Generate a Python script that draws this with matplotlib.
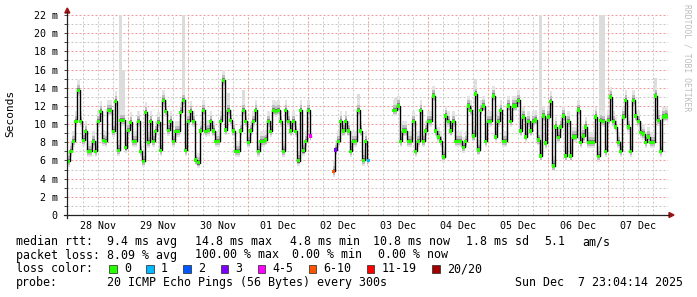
import matplotlib
matplotlib.use("Agg")
import matplotlib.pyplot as plt
import numpy as np
from matplotlib.patches import Polygon, Rectangle
from matplotlib.lines import Line2D

W, H = 697, 297
MONO = "DejaVu Sans Mono"

# median rtt in ms, one value per hour, three runs cut by the two outages
run1_start = 0
run1 = [5.9, 7.0, 8.1, 10.3, 13.7, 10.3, 8.2, 9.2, 7.0, 7.0,
        8.1, 7.0, 10.3, 11.4, 8.2, 8.1, 11.5, 11.5, 9.2, 12.5,
        7.1, 10.4, 10.4, 7.4, 9.3, 10.2, 8.1, 8.1, 10.3, 7.0,
        5.9, 11.3, 8.0, 10.3, 8.1, 9.2, 10.2, 7.1, 12.6, 11.4,
        9.3, 10.3, 8.1, 9.2, 9.2, 11.3, 12.6, 7.1, 10.3,
        11.4, 10.3, 6.05, 5.75, 9.24, 11.5, 9.2, 9.3, 10.3, 9.25,
        8.1, 8.1, 10.3, 14.8, 9.35, 11.5, 10.4, 9.25, 7.0, 7.0,
        9.25, 11.5, 10.3, 8.0, 9.25, 10.3, 11.5, 7.0, 8.1, 8.1,
        8.25, 10.3, 9.2, 11.5, 11.4, 11.5, 10.3, 7.0, 11.5, 10.3,
        9.25, 10.3, 9.2, 5.97, 11.5, 7.07, 8.1, 11.5, 8.7]
run2_start = 106
run2 = [4.8, 7.15, 8.1, 10.3, 9.25, 10.3, 9.25, 7.0, 8.1, 8.1,
        11.5, 9.25, 6.0, 8.1, 6.0]
run3_start = 130
run3 = [11.5, 11.5, 12.0, 8.1, 9.25, 9.25, 8.1, 8.1, 10.3, 7.0,
        8.1, 11.5, 8.1, 9.25, 10.3, 10.3, 13.1, 9.25, 8.6, 8.1,
        6.4, 10.9, 10.3, 9.25, 10.3, 8.1, 8.1, 8.1, 7.45, 8.1,
        12.0, 11.5, 8.7, 13.3, 7.15, 11.5, 12.0, 8.1, 10.3, 10.3,
        13.1, 8.6, 10.3, 11.5, 8.1, 8.1, 12.0, 10.3, 12.0, 12.0,
        12.6, 9.25, 10.8, 8.6, 10.3, 9.25, 10.3,
        10.45, 8.25, 6.5, 10.9, 7.9, 10.8, 12.5, 5.4, 9.7, 8.55,
        9.7, 10.9, 6.5, 10.3, 6.5, 8.6, 8.6, 11.55, 8.0, 8.7,
        9.7, 8.0, 8.0, 8.0, 10.8, 6.45, 10.4, 10.3, 7.0, 10.4,
        13.0, 10.3, 9.7, 8.0, 7.0, 10.8, 12.6, 9.7, 7.0, 12.6,
        10.9, 10.3, 9.1, 8.9, 8.0, 8.6, 8.0, 8.0, 13.1, 10.4,
        7.0, 10.8, 10.9, 10.8]

# hours where some pings were lost (everything else 0/20)
lossy_hours = [97, 106, 107, 120]
lossy_class = ["4-5", "6-10", "3", "1"]

# hours with a tall smoke column and the top of that column (ms)
spike_hours = [4, 21, 22, 38, 46, 62, 64, 70, 116, 131,
               146, 163, 189, 213, 214, 217, 235]
spike_tops = [14.3, 22, 16, 13.4, 22, 15.3, 13.4, 13.8, 13.3, 12.9,
              14.0, 15.0, 22, 22, 22, 13.8, 15.1]

loss_labels = ["0", "1", "2", "3", "4-5", "6-10", "11-19", "20/20"]
loss_colors = ["#26ff00", "#00b8ff", "#0059ff", "#7e00ff", "#ff00ff",
               "#ff5500", "#ff0000", "#a00000"]

day_labels = ["28 Nov", "29 Nov", "30 Nov", "01 Dec", "02 Dec",
              "03 Dec", "04 Dec", "05 Dec", "06 Dec", "07 Dec"]

fig = plt.figure(figsize=(W / 100, H / 100), dpi=100)
fig.patch.set_facecolor("white")
x0, x1, ytop, ybot = 67.3, 668, 15, 215
ax = fig.add_axes([x0 / W, 1 - ybot / H, (x1 - x0) / W, (ybot - ytop) / H])
ax.set_xlim(-0.4, 239.9)
ax.set_ylim(0, 22)
for s in ax.spines.values():
    s.set_visible(False)

# dotted grid: grey every 1 ms / 6 h, red every 2 ms / day
dot = (0, (2, 2))
for v in range(1, 23):
    col = "#f09a9a" if v % 2 == 0 else "#c8c8c8"
    ax.axhline(v, color=col, lw=0.72, ls=dot, zorder=0)
for h in range(6, 240, 6):
    col = "#f09a9a" if h % 24 == 0 else "#c8c8c8"
    ax.axvline(h, color=col, lw=0.72, ls=dot, zorder=0)

# smoke spikes
spike_base = {}
for start, run in [(run1_start, run1), (run2_start, run2), (run3_start, run3)]:
    for i, v in enumerate(run):
        spike_base[start + i] = v
for h, top in zip(spike_hours, spike_tops):
    b = spike_base[h]
    ax.bar(h, top - b, bottom=b, width=1.2, color="#dcdcdc", lw=0, zorder=1)

# smoke bands, line and loss-coloured medians
for start, run in [(run1_start, run1), (run2_start, run2), (run3_start, run3)]:
    hrs = np.arange(start, start + len(run))
    v = np.array(run)
    ax.fill_between(hrs, v - 0.6, v + 1.1, step="mid", color="#e4e4e4", lw=0, zorder=2)
    ax.fill_between(hrs, v - 0.4, v + 0.6, step="mid", color="#bdbdbd", lw=0, zorder=2)
    ax.fill_between(hrs, v - 0.2, v + 0.3, step="mid", color="#808080", lw=0, zorder=2)
    ax.step(hrs, v, where="mid", color="black", lw=1.0, zorder=3)
    cols = []
    for h in hrs:
        c = loss_colors[0]
        if h in lossy_hours:
            c = loss_colors[loss_labels.index(lossy_class[lossy_hours.index(h)])]
        cols.append(c)
    ax.scatter(hrs, v, c=cols, marker="s", s=6, lw=0, zorder=4)

# ticks
ax.set_yticks(range(0, 23, 2))
ax.set_yticklabels(["0"] + [f"{v} m" for v in range(2, 23, 2)], family=MONO, fontsize=7.2)
ax.set_yticks(range(0, 23), minor=True)
ax.tick_params(axis="y", which="both", length=2, width=0.7, color="#444444", pad=5)
ax.set_xticks([12 + 24 * k for k in range(10)])
ax.set_xticklabels(day_labels, family=MONO, fontsize=7.2)
ax.tick_params(axis="x", length=0, pad=4)


def fp(x, y):
    return x / W, 1 - y / H


# axis lines with arrow heads
fig.add_artist(Line2D(*zip(fp(x0, 218), fp(x0, 12)), color="#222222", lw=0.9,
                      transform=fig.transFigure))
fig.add_artist(Line2D(*zip(fp(64, ybot), fp(669, ybot)), color="#222222", lw=0.9,
                      transform=fig.transFigure))
fig.add_artist(Polygon([fp(x0 - 2.5, 13), fp(x0 + 2.5, 13), fp(x0, 8)], closed=True,
                       color="#a01010", transform=fig.transFigure))
fig.add_artist(Polygon([fp(669, ybot - 2.5), fp(669, ybot + 2.5), fp(674, ybot)], closed=True,
                       color="#a01010", transform=fig.transFigure))

fig.text(*fp(10, 113), "Seconds", family=MONO, fontsize=8, rotation=90,
         ha="center", va="center")
fig.text(*fp(687, 4), "RRDTOOL / TOBI OETIKER", family=MONO, fontsize=5.8,
         rotation=270, ha="center", va="top", color="#bdbdbd")

# legend lines
fs = 8.4
rows = [
    (241.7, [(16, "median rtt:"), (107.3, "9.4 ms avg"), (194.6, "14.8 ms max"),
             (290.5, "4.8 ms min"), (372.7, "10.8 ms now"), (466, "1.8 ms sd"),
             (544, "5.1"), (582.7, "am/s")]),
    (255, [(16, "packet loss:"), (107.3, "8.09 % avg"), (194.6, "100.00 % max"),
           (292, "0.00 % min"), (378.3, "0.00 % now")]),
    (269, [(16, "loss color:")]),
    (282.7, [(16, "probe:"), (107.3, "20 ICMP Echo Pings (56 Bytes) every 300s"),
             (515, "Sun Dec  7 23:04:14 2025")]),
]
for y, parts in rows:
    for x, t in parts:
        fig.text(*fp(x, y), t, family=MONO, fontsize=fs, ha="left", va="center")

bx = 109.4
for lab, col in zip(loss_labels, loss_colors):
    fig.add_artist(Rectangle(fp(bx, 273), 7.5 / W, 8 / H, facecolor=col,
                             edgecolor="#222222", lw=0.5, transform=fig.transFigure))
    fig.text(*fp(bx + 14.6, 269), lab, family=MONO, fontsize=fs, ha="left", va="center")
    bx += 30 + 7.05 * len(lab)

fig.savefig("out.png", dpi=100)
